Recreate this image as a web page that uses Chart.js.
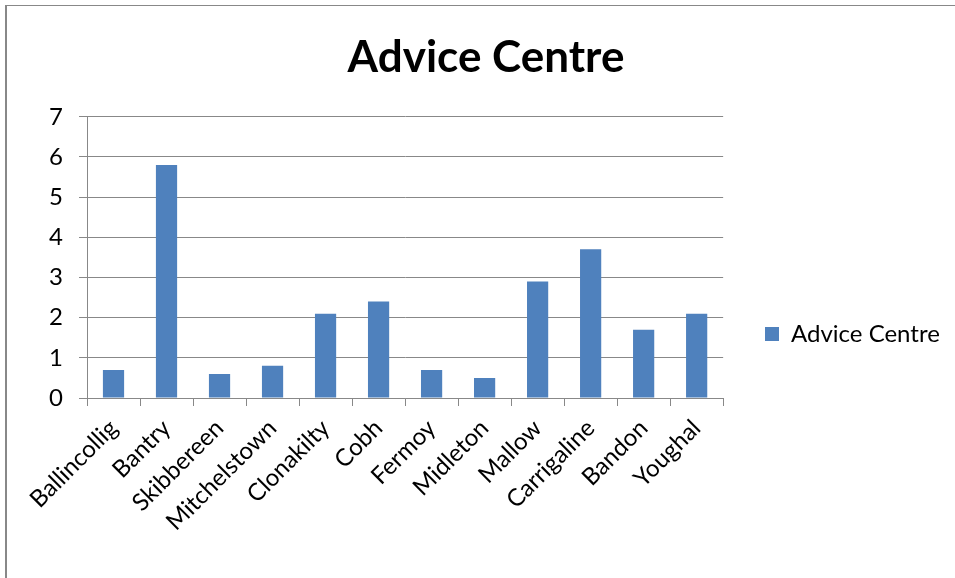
<!DOCTYPE html>
<html>
<head>
<meta charset="utf-8">
<script src="https://cdn.jsdelivr.net/npm/chart.js@4/dist/chart.umd.min.js"></script>
<style>
  html, body { margin: 0; padding: 0; background: #fff; }
  #wrap { position: relative; width: 955px; height: 578px; }
  #frame { position: absolute; left: 5px; top: 5px; width: 955px; height: 578px;
           border-top: 1px solid #888; border-left: 2px solid #888; box-sizing: border-box; }
  canvas { position: absolute; left: 0; top: 0; }
</style>
</head>
<body>
<div id="wrap">
  <canvas id="adviceChart" width="955" height="578"></canvas>
  <div id="frame"></div>
</div>
<script>
const towns = ['Ballincollig', 'Bantry', 'Skibbereen', 'Mitchelstown', 'Clonakilty', 'Cobh',
               'Fermoy', 'Midleton', 'Mallow', 'Carrigaline', 'Bandon', 'Youghal'];
const adviceValues = [0.7, 5.8, 0.6, 0.8, 2.1, 2.4, 0.7, 0.5, 2.9, 3.7, 1.7, 2.1];
const yTicks = [0, 1, 2, 3, 4, 5, 6, 7];

const fontFamily = "Lato, 'Open Sans', sans-serif";
const gridGray = '#888888';

// nudge legend and title to where the original has them
const blockPlacer = {
    id: 'blockPlacer',
    afterUpdate(chart) {
        const lg = chart.legend;
        if (lg) {
            const dx = 755 - lg.left;
            const dy = 36;
            lg.left += dx; lg.right += dx;
            lg.top += dy; lg.bottom += dy;
            lg.adjustHitBoxes();
        }
        const tt = chart.titleBlock;
        if (tt) {
            tt.left += 17; tt.right += 17;
        }
    }
};

const ctx = document.getElementById('adviceChart').getContext('2d');
const adviceChart = new Chart(ctx, {
    type: 'bar',
    data: {
        labels: towns,
        datasets: [
            {
                label: 'Advice Centre',
                data: adviceValues,
                backgroundColor: '#4F81BD',
                borderWidth: 0,
                barPercentage: 0.4,
                categoryPercentage: 1.0
            }
        ]
    },
    options: {
        responsive: false,
        animation: false,
        layout: { padding: { left: 20, right: 37, top: 18, bottom: 0 } },
        plugins: {
            title: {
                display: true,
                text: 'Advice Centre',
                color: '#000',
                font: { family: fontFamily, size: 44, weight: 'bold' },
                padding: { top: 13, bottom: 33 }
            },
            legend: {
                position: 'right',
                labels: {
                    color: '#000',
                    font: { family: fontFamily, size: 24 },
                    boxWidth: 14,
                    boxHeight: 14,
                    padding: 10
                }
            },
            tooltip: { enabled: false }
        },
        scales: {
            x: {
                grid: { drawOnChartArea: false, drawTicks: true, tickLength: 8, color: gridGray, offset: true },
                border: { color: gridGray, width: 1 },
                ticks: {
                    color: '#000',
                    font: { family: fontFamily, size: 24 },
                    minRotation: 45,
                    maxRotation: 45,
                    autoSkip: false,
                    padding: 8
                },
                afterFit: function (scale) { scale.height = 180; }
            },
            y: {
                min: 0,
                max: 7,
                grid: { color: gridGray, tickLength: 8 },
                border: { color: gridGray, width: 1 },
                afterBuildTicks: function (scale) {
                    scale.ticks = yTicks.map(v => ({ value: v }));
                },
                ticks: {
                    color: '#000',
                    font: { family: fontFamily, size: 24 },
                    padding: 16
                },
                afterFit: function (scale) { scale.width = 67; }
            }
        }
    },
    plugins: [blockPlacer]
});
</script>
</body>
</html>
